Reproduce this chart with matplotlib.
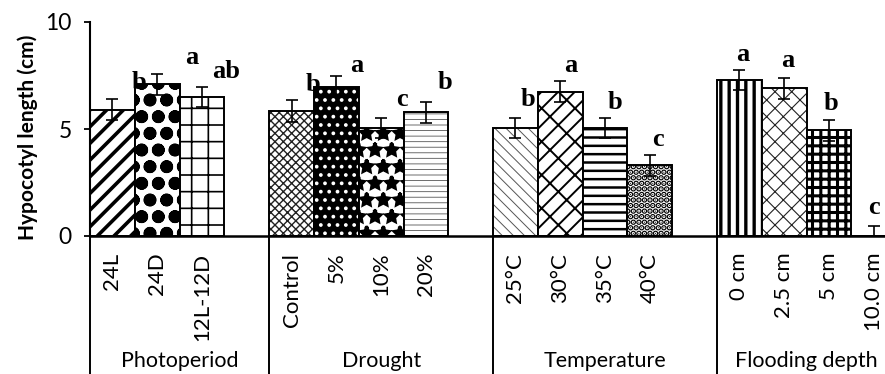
import matplotlib
matplotlib.use('Agg')
import matplotlib.pyplot as plt
import matplotlib.transforms as mtransforms

plt.rcParams['font.family'] = ['Lato', 'DejaVu Sans']

# Data
groups = ['Photoperiod', 'Drought', 'Temperature', 'Flooding depth']
photoperiod_labels = ['24L', '24D', '12L-12D']
drought_labels = ['Control', '5%', '10%', '20%']
temperature_labels = ['25°C', '30°C', '35°C', '40°C']
flooding_labels = ['0 cm', '2.5 cm', '5 cm', '10.0 cm']

photoperiod_vals = [5.90, 7.09, 6.51]
drought_vals = [5.84, 6.98, 5.06, 5.78]
temperature_vals = [5.06, 6.74, 5.06, 3.30]
flooding_vals = [7.31, 6.90, 4.94, 0.0]

photoperiod_err = [0.50, 0.49, 0.47]
drought_err = [0.52, 0.48, 0.47, 0.48]
temperature_err = [0.47, 0.49, 0.47, 0.48]
flooding_err = [0.47, 0.48, 0.48, 0.48]

photoperiod_sig = ['b', 'a', 'ab']
drought_sig = ['b', 'a', 'c', 'b']
temperature_sig = ['b', 'a', 'b', 'c']
flooding_sig = ['a', 'a', 'b', 'c']

# where the letters sit relative to the bar centre / bar top
sig_dx = [0.60, 0.77, 0.55, 0.48, 0.45, 0.46, 0.42,
          0.28, 0.24, 0.22, 0.18, 0.08, 0.08, 0.04, 0.0]
sig_dy = [1.26, 1.27, 1.16, 1.22, 1.01, 1.30, 1.37,
          1.34, 1.25, 1.20, 1.19, 1.15, 1.32, 1.27, 1.31]

# fill patterns: (facecolor, hatch colour, hatch, hatch linewidth)
patterns = [
    ('white', 'black', '//', 2.6),
    ('white', 'black', 'o', 4.5),
    ('white', 'black', '+', 1.2),
    ('white', '#222222', 'xxxx', 1.0),
    ('black', 'white', '..', 1.5),
    ('white', 'black', '*', 2.5),
    ('white', '#555555', '---', 0.6),
    ('white', '#555555', '\\\\\\', 0.7),
    ('white', 'black', '//\\', 1.4),
    ('white', 'black', '--', 1.8),
    ('white', 'black', '...', 3.0),
    ('white', 'black', '||', 2.4),
    ('white', '#222222', 'xx', 0.8),
    ('white', 'black', '++', 2.2),
    ('white', 'black', '', 1.0),
]

group_bounds = [0, 4, 9, 14, 18]

labels = photoperiod_labels + drought_labels + temperature_labels + flooding_labels
values = photoperiod_vals + drought_vals + temperature_vals + flooding_vals
errors = photoperiod_err + drought_err + temperature_err + flooding_err
letters = photoperiod_sig + drought_sig + temperature_sig + flooding_sig

counts = [len(photoperiod_vals), len(drought_vals), len(temperature_vals), len(flooding_vals)]
centers = []
for g, n in enumerate(counts):
    for i in range(n):
        centers.append(group_bounds[g] + i + 0.5)

fig = plt.figure(figsize=(8.85, 3.74), dpi=100)
ax = fig.add_axes([90 / 885, 138 / 374, 795 / 885, 214 / 374])

for i, (x, v) in enumerate(zip(centers, values)):
    face, hcol, hatch, hlw = patterns[i]
    with plt.rc_context({'hatch.linewidth': hlw}):
        b = ax.bar(x, v, width=1.0, color=face, edgecolor=hcol, linewidth=0, hatch=hatch)
        for p in b:
            if hasattr(p, 'set_hatch_linewidth'):
                p.set_hatch_linewidth(hlw)
    ax.bar(x, v, width=1.0, fill=False, edgecolor='black', linewidth=1.4)

ax.errorbar(centers, values, yerr=errors, fmt='none', ecolor='black',
            elinewidth=1.2, capsize=4, capthick=1.2, zorder=5)

# significance letters
for x, v, s, dx, dy in zip(centers, values, letters, sig_dx, sig_dy):
    ax.text(x + dx, v + dy, s, ha='center', va='center', fontsize=19,
            fontweight='bold', family='Liberation Serif')

ax.set_xlim(0, 17.75)
ax.set_ylim(0, 10)
ax.set_yticks([0, 5, 10])
ax.tick_params(axis='y', direction='out', length=4, width=1.3, labelsize=16.5, pad=9)
ax.set_xticks(centers)
ax.set_xticklabels(labels, rotation=90, fontsize=16)
ax.tick_params(axis='x', length=0, pad=12)

for side in ['top', 'right']:
    ax.spines[side].set_visible(False)
ax.spines['left'].set_linewidth(1.5)
ax.spines['bottom'].set_linewidth(1.8)

ax.set_ylabel('Hypocotyl length (cm)', fontsize=15, fontweight='bold')
ax.yaxis.set_label_coords(-0.065, 0.46)

# group dividers and group names below the axis
trans = mtransforms.blended_transform_factory(ax.transData, ax.transAxes)
for xb in group_bounds[:-1]:
    ax.plot([xb, xb], [0, -0.65], transform=trans, color='black', lw=1.4, clip_on=False)
for g, name in enumerate(groups):
    xc = (group_bounds[g] + group_bounds[g + 1]) / 2
    ax.text(xc, -0.585, name, transform=trans, ha='center', va='center', fontsize=15.5)

fig.savefig('out.png', dpi=100)
